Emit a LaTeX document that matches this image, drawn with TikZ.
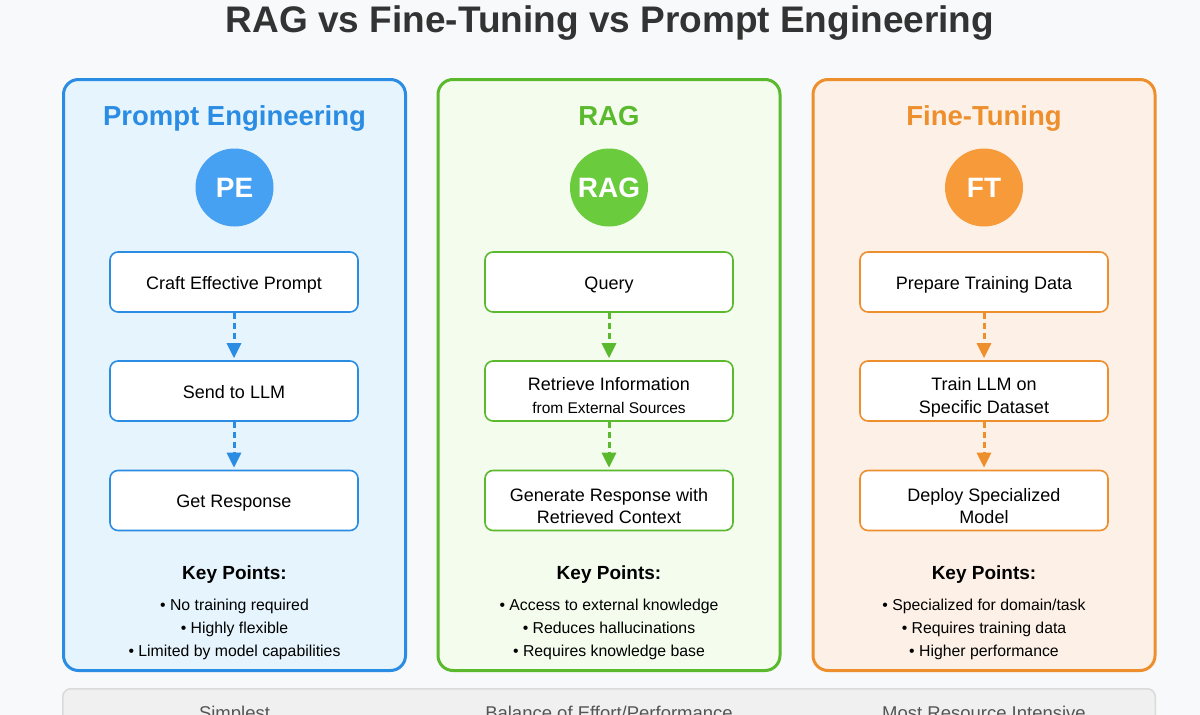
\documentclass[tikz,border=0pt]{standalone}
\usepackage{fontspec}
\setmainfont{Liberation Sans}
\usetikzlibrary{arrows.meta}
\definecolor{bgc}{HTML}{F8F9FA}
\definecolor{titlec}{HTML}{333333}
\definecolor{bluebd}{HTML}{2B8CE3}
\definecolor{bluefill}{HTML}{E6F4FD}
\definecolor{bluecirc}{HTML}{47A1F2}
\definecolor{greenbd}{HTML}{5AB92D}
\definecolor{greenfill}{HTML}{F4FCEE}
\definecolor{greencirc}{HTML}{6ACB3C}
\definecolor{orangebd}{HTML}{EE8F2E}
\definecolor{orangefill}{HTML}{FDF1E7}
\definecolor{orangecirc}{HTML}{F79A3A}
\definecolor{barfill}{HTML}{F0F0F0}
\definecolor{barbd}{HTML}{DADADA}
\definecolor{bartext}{HTML}{555555}
\tikzset{
  panelbox/.style n args={2}{draw=#1, fill=#2, line width=3pt, rounded corners=15pt,
    minimum width=342pt, minimum height=591pt, inner sep=0pt},
  ptitle/.style={text=#1, font=\bfseries\fontsize{27.5}{30}\selectfont, anchor=base, inner sep=0pt},
  badge/.style={circle, fill=#1, minimum size=78pt, inner sep=0pt, text=white,
    font=\bfseries\fontsize{28}{30}\selectfont},
  stepbox/.style={draw=#1, fill=white, line width=1.6pt, rounded corners=8pt,
    minimum width=248pt, minimum height=60pt, inner sep=0pt},
  steptext/.style={font=\fontsize{18}{22}\selectfont, anchor=base, inner sep=0pt},
  subtext/.style={font=\fontsize{15.5}{19}\selectfont, anchor=base, inner sep=0pt},
  flow/.style={draw=#1, line width=3pt, dash pattern=on 6pt off 4pt,
    -{Triangle[length=15pt,width=14pt]}, shorten >=2pt},
  keyhead/.style={font=\bfseries\fontsize{19}{22}\selectfont, anchor=base, inner sep=0pt},
  bullet/.style={font=\fontsize{15.8}{19}\selectfont, anchor=base, inner sep=0pt},
  bartxt/.style={font=\fontsize{18.5}{22}\selectfont, text=bartext, anchor=base, inner sep=0pt}
}
\begin{document}
\begin{tikzpicture}[x=1pt,y=-1pt]
\clip (0,0) rectangle (1200,715);
\fill[bgc] (0,0) rectangle (1200,715);
\useasboundingbox (0,0) rectangle (1200,715);

% title
\node[font=\bfseries\fontsize{37}{40}\selectfont, text=titlec, anchor=base, inner sep=0pt] (title) at (610,32) {RAG vs Fine-Tuning vs Prompt Engineering};

% ---------- Prompt Engineering ----------
\node[panelbox={bluebd}{bluefill}] (pep) at (234.5,375) {};
\node[ptitle=bluebd] (pet) at (234.5,125) {Prompt Engineering};
\node[badge=bluecirc] (pec) at (234.5,187.5) {PE};
\node[stepbox=bluebd] (pe1) at (234,282) {};
\node[steptext] (pe1t) at (234,289) {Craft Effective Prompt};
\node[stepbox=bluebd] (pe2) at (234,391) {};
\node[steptext] (pe2t) at (234,398) {Send to LLM};
\node[stepbox=bluebd] (pe3) at (234,500.5) {};
\node[steptext] (pe3t) at (234,507.5) {Get Response};
\draw[flow=bluebd] (pe1.south) -- (pe2.north);
\draw[flow=bluebd] (pe2.south) -- (pe3.north);
\node[keyhead] (pek) at (234.5,579) {Key Points:};
\node[bullet] (peb1) at (234.5,610) {• No training required};
\node[bullet] (peb2) at (234.5,633) {• Highly flexible};
\node[bullet] (peb3) at (234.5,656) {• Limited by model capabilities};

% ---------- RAG ----------
\node[panelbox={greenbd}{greenfill}] (ragp) at (609,375) {};
\node[ptitle=greenbd] (ragt) at (609,125) {RAG};
\node[badge=greencirc] (ragc) at (609,187.5) {RAG};
\node[stepbox=greenbd] (rag1) at (609,282) {};
\node[steptext] (rag1t) at (609,289) {Query};
\node[stepbox=greenbd] (rag2) at (609,391) {};
\node[steptext] (rag2t) at (609,390.7) {Retrieve Information};
\node[subtext] (rag2s) at (609,413) {from External Sources};
\node[stepbox=greenbd] (rag3) at (609,500.5) {};
\node[steptext] (rag3t) at (609,501) {Generate Response with};
\node[steptext] (rag3u) at (609,523.3) {Retrieved Context};
\draw[flow=greenbd] (rag1.south) -- (rag2.north);
\draw[flow=greenbd] (rag2.south) -- (rag3.north);
\node[keyhead] (ragk) at (609,579) {Key Points:};
\node[bullet] (ragb1) at (609,610) {• Access to external knowledge};
\node[bullet] (ragb2) at (609,633) {• Reduces hallucinations};
\node[bullet] (ragb3) at (609,656) {• Requires knowledge base};

% ---------- Fine-Tuning ----------
\node[panelbox={orangebd}{orangefill}] (ftp) at (984,375) {};
\node[ptitle=orangebd] (ftt) at (984,125) {Fine-Tuning};
\node[badge=orangecirc] (ftc) at (984,187.5) {FT};
\node[stepbox=orangebd] (ft1) at (984,282) {};
\node[steptext] (ft1t) at (984,289) {Prepare Training Data};
\node[stepbox=orangebd] (ft2) at (984,391) {};
\node[steptext] (ft2t) at (984,390.7) {Train LLM on};
\node[steptext] (ft2u) at (984,413) {Specific Dataset};
\node[stepbox=orangebd] (ft3) at (984,500.5) {};
\node[steptext] (ft3t) at (984,501) {Deploy Specialized};
\node[steptext] (ft3u) at (984,523.3) {Model};
\draw[flow=orangebd] (ft1.south) -- (ft2.north);
\draw[flow=orangebd] (ft2.south) -- (ft3.north);
\node[keyhead] (ftk) at (984,579) {Key Points:};
\node[bullet] (ftb1) at (984,610) {• Specialized for domain/task};
\node[bullet] (ftb2) at (984,633) {• Requires training data};
\node[bullet] (ftb3) at (984,656) {• Higher performance};

% ---------- bottom bar ----------
\node[draw=barbd, fill=barfill, line width=1.5pt, rounded corners=8pt,
      minimum width=1092.5pt, minimum height=100pt, inner sep=0pt] (bar) at (609,738.75) {};
\node[bartxt] (bar1) at (234.5,719.5) {Simplest};
\node[bartxt] (bar2) at (609,719.5) {Balance of Effort/Performance};
\node[bartxt] (bar3) at (984,719.5) {Most Resource Intensive};
\end{tikzpicture}
\end{document}
